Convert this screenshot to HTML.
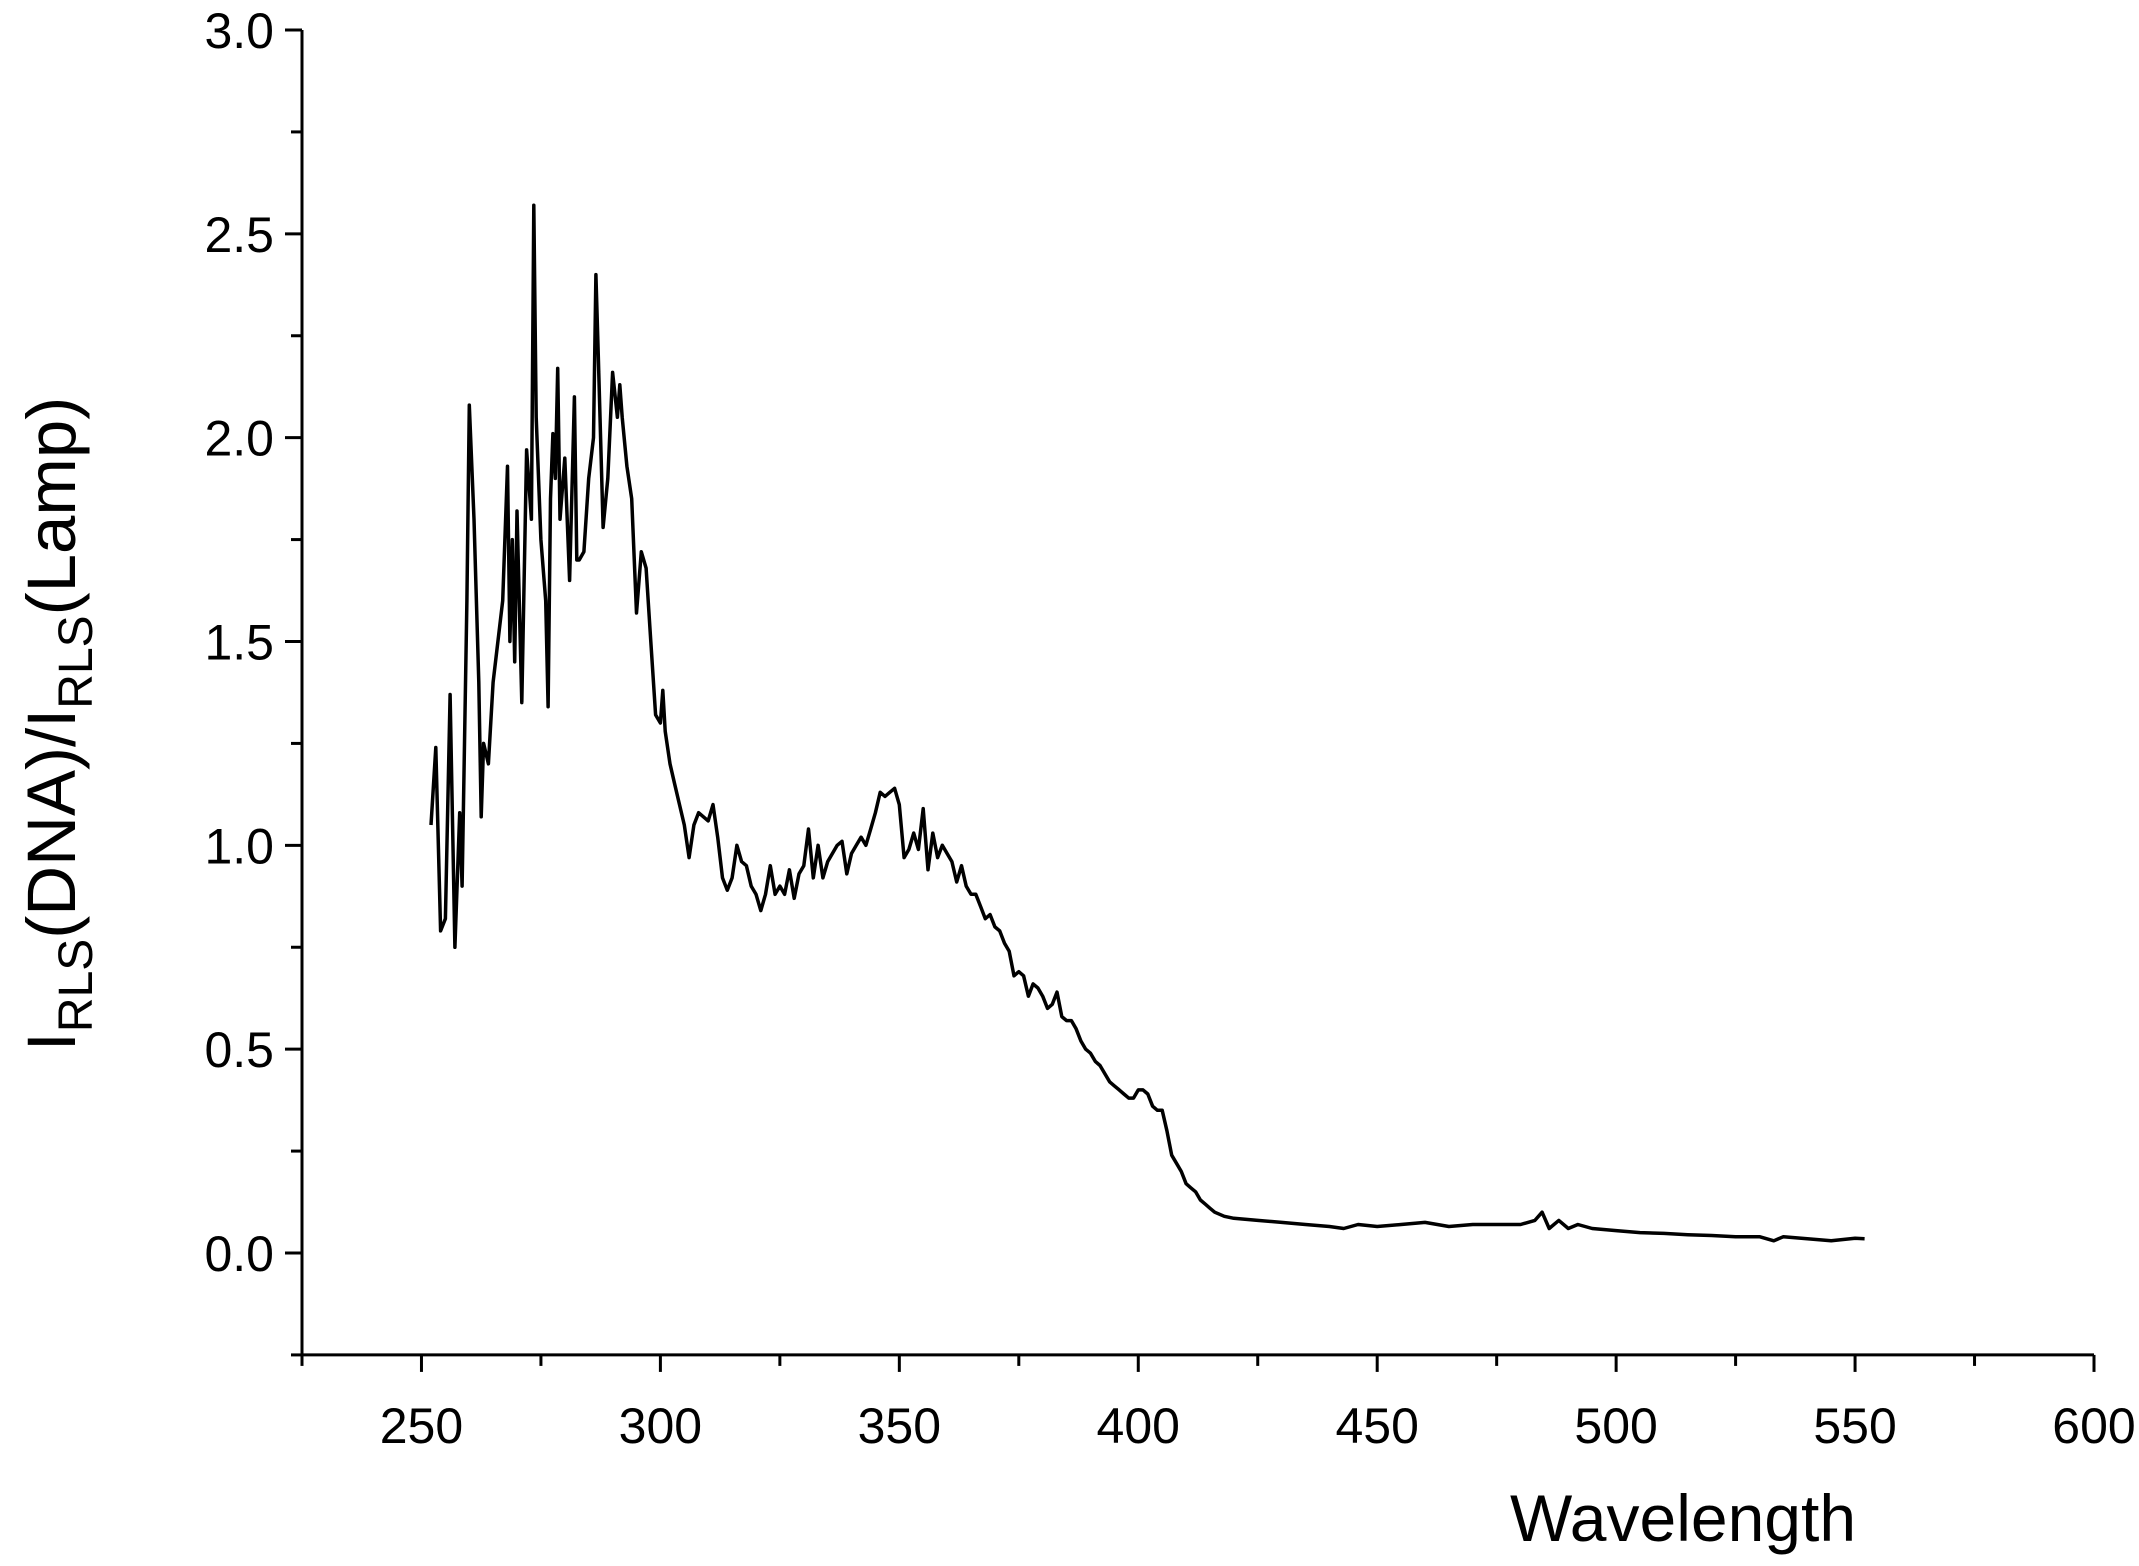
<!DOCTYPE html>
<html><head><meta charset="utf-8"><style>
html,body{margin:0;padding:0;background:#fff;}
svg{display:block;font-family:"Liberation Sans",Arial,sans-serif;}
</style></head><body>
<svg id="chart" width="2139" height="1566" viewBox="0 0 2139 1566" xmlns="http://www.w3.org/2000/svg">
<g id="axes"></g>
<path id="series" fill="none" stroke="#000" stroke-width="3.5" stroke-linejoin="round"/>
<text x="1683" y="1541" font-size="66" text-anchor="middle">Wavelength</text>
<text transform="translate(75,724) rotate(-90)" font-size="69" text-anchor="middle">I<tspan font-size="48" dy="17">RLS</tspan><tspan dy="-17">(DNA)/I</tspan><tspan font-size="48" dy="17">RLS</tspan><tspan dy="-17">(Lamp)</tspan></text>
</svg>
<script>
const wavelengths=[252,253,254,255,256,257,258,258.5,259.5,260,261,262,262.5,263,264,265,266,267,268,268.5,269,269.5,270,271,272,273,273.5,274,275,276,276.5,277,277.5,278,278.5,279,280,281,282,282.5,283,284,285,286,286.5,287,288,289,290,291,291.5,292,293,294,295,296,297,298,299,300,300.5,301,302,303,304,305,306,307,308,309,310,311,312,313,314,315,316,317,318,319,320,321,322,323,324,325,326,327,328,329,330,331,332,333,334,335,336,337,338,339,340,341,342,343,344,345,346,347,348,349,350,351,352,353,354,355,356,357,358,359,360,361,362,363,364,365,366,367,368,369,370,371,372,373,374,375,376,377,378,379,380,381,382,383,384,385,386,387,388,389,390,391,392,393,394,395,396,397,398,399,400,401,402,403,404,405,406,407,408,409,410,411,412,413,414,415,416,418,420,425,430,435,440,443,446,450,455,460,465,470,475,480,483,484.5,486,488,490,492,495,500,505,510,515,520,525,530,533,535,540,545,550,552];
const ratios=[1.05,1.24,0.79,0.82,1.37,0.75,1.08,0.90,1.60,2.08,1.80,1.40,1.07,1.25,1.20,1.40,1.50,1.60,1.93,1.50,1.75,1.45,1.82,1.35,1.97,1.80,2.57,2.05,1.75,1.60,1.34,1.85,2.01,1.90,2.17,1.80,1.95,1.65,2.10,1.70,1.70,1.72,1.90,2.00,2.40,2.20,1.78,1.90,2.16,2.05,2.13,2.05,1.93,1.85,1.57,1.72,1.68,1.50,1.32,1.30,1.38,1.28,1.20,1.15,1.10,1.05,0.97,1.05,1.08,1.07,1.06,1.10,1.02,0.92,0.89,0.92,1.00,0.96,0.95,0.90,0.88,0.84,0.88,0.95,0.88,0.90,0.88,0.94,0.87,0.93,0.95,1.04,0.92,1.00,0.92,0.96,0.98,1.00,1.01,0.93,0.98,1.00,1.02,1.00,1.04,1.08,1.13,1.12,1.13,1.14,1.10,0.97,0.99,1.03,0.99,1.09,0.94,1.03,0.97,1.00,0.98,0.96,0.91,0.95,0.90,0.88,0.88,0.85,0.82,0.83,0.80,0.79,0.76,0.74,0.68,0.69,0.68,0.63,0.66,0.65,0.63,0.60,0.61,0.64,0.58,0.57,0.57,0.55,0.52,0.50,0.49,0.47,0.46,0.44,0.42,0.41,0.40,0.39,0.38,0.38,0.40,0.40,0.39,0.36,0.35,0.35,0.30,0.24,0.22,0.20,0.17,0.16,0.15,0.13,0.12,0.11,0.10,0.09,0.085,0.08,0.075,0.07,0.065,0.06,0.07,0.065,0.07,0.075,0.065,0.07,0.07,0.07,0.08,0.10,0.06,0.08,0.06,0.07,0.06,0.055,0.05,0.048,0.045,0.043,0.04,0.04,0.03,0.04,0.035,0.03,0.036,0.035];
const xTickLabels=["250","300","350","400","450","500","550","600"];
const yTickLabels=["0.0","0.5","1.0","1.5","2.0","2.5","3.0"];

const X0=302,X1=2094,XMIN=225,XMAX=600;
const Y0=1253,Y3=30;
function sx(v){return X0+(v-XMIN)*(X1-X0)/(XMAX-XMIN);}
function sy(v){return Y0-v*(Y0-Y3)/3;}
const NS="http://www.w3.org/2000/svg";
const axes=document.getElementById('axes');
function mk(tag,attrs,parent){const e=document.createElementNS(NS,tag);for(const k in attrs)e.setAttribute(k,attrs[k]);(parent||axes).appendChild(e);return e;}
const yBottom=sy(-0.25);
const yAxis=mk('line',{x1:X0,y1:sy(3),x2:X0,y2:yBottom,stroke:'#000','stroke-width':3});


const xAxis=mk('line',{x1:X0,y1:yBottom,x2:X1,y2:yBottom,stroke:'#000','stroke-width':3});


for(let v=-0.25;v<=3.001;v+=0.25){
  const major=Math.abs(v*2-Math.round(v*2))<1e-6;
  const t=mk('line',{x1:X0-(major?17:11),y1:sy(v),x2:X0,y2:sy(v),stroke:'#000','stroke-width':3});
  
  
}
yTickLabels.forEach(s=>{
  const v=parseFloat(s);
  const t=mk('text',{x:X0-28,y:sy(v)+18,'font-size':50,'text-anchor':'end'});
  t.textContent=s;
  
  
});
for(let v=225;v<=600;v+=25){
  const major=v%50===0;
  const t=mk('line',{x1:sx(v),y1:yBottom,x2:sx(v),y2:yBottom+(major?17:11),stroke:'#000','stroke-width':3});
  
  
}
xTickLabels.forEach(s=>{
  const v=parseFloat(s);
  const t=mk('text',{x:sx(v),y:1443,'font-size':50,'text-anchor':'middle'});
  t.textContent=s;
  
  
});
let d='';
wavelengths.forEach((w,i)=>{d+=(i?'L':'M')+sx(w).toFixed(1)+' '+sy(ratios[i]).toFixed(1);});
document.getElementById('series').setAttribute('d',d);
</script>
</body></html>
